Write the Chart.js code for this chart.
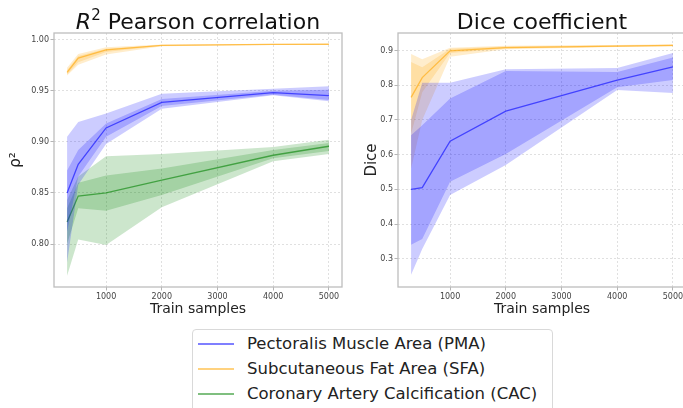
<!DOCTYPE html>
<html><head><meta charset="utf-8">
<script src="https://cdn.jsdelivr.net/npm/chart.js@4"></script>
<style>
html,body{margin:0;padding:0;background:#fff;overflow:hidden;width:683px;height:408px;font-family:"DejaVu Sans",sans-serif;}
#c1{position:absolute;left:0;top:0;}
#c2{position:absolute;left:345px;top:0;}
#legend{position:absolute;left:192px;top:329px;width:361px;height:95px;border:1px solid #d9d9d9;border-radius:4px;background:#fff;box-sizing:border-box;}
.item{position:absolute;left:0;width:100%;height:25px;}
.swatch{position:absolute;left:5px;top:12px;width:36px;height:1.5px;}
.lbl{position:absolute;left:54px;top:0;line-height:25px;font-size:16.5px;color:#222;white-space:nowrap;}
</style></head>
<body>
<canvas id="c1" width="345" height="320"></canvas>
<canvas id="c2" width="345" height="320"></canvas>
<div id="legend"></div>
<script>
// ---------- data ----------
const trainSamples = [300, 500, 1000, 2000, 4000, 5000];
const xTickValues = [1000, 2000, 3000, 4000, 5000];
const r2TickValues = [0.80, 0.85, 0.90, 0.95, 1.00];
const diceTickValues = [0.3, 0.4, 0.5, 0.6, 0.7, 0.8, 0.9];
const seriesNames = ['Pectoralis Muscle Area (PMA)', 'Subcutaneous Fat Area (SFA)', 'Coronary Artery Calcification (CAC)'];

// R2 Pearson correlation
const pmaR2Mean    = [0.850, 0.878, 0.9136, 0.9387, 0.9482, 0.9453];
const pmaR2OuterHi = [0.905, 0.9195, 0.9277, 0.947, 0.952, 0.9544];
const pmaR2OuterLo = [0.782, 0.858, 0.898, 0.9325, 0.9455, 0.9397];
const pmaR2InnerHi = [0.872, 0.892, 0.918, 0.942, 0.950, 0.951];
const pmaR2InnerLo = [0.812, 0.866, 0.905, 0.935, 0.946, 0.941];

const sfaR2Mean    = [0.968, 0.982, 0.990, 0.9944, 0.9953, 0.9955];
const sfaR2OuterHi = [0.9725, 0.986, 0.9925, 0.9952, 0.996, 0.996];
const sfaR2OuterLo = [0.965, 0.9755, 0.9855, 0.9935, 0.9947, 0.995];
const sfaR2InnerHi = [0.970, 0.984, 0.991, 0.9948, 0.9957, 0.9958];
const sfaR2InnerLo = [0.966, 0.978, 0.988, 0.9940, 0.995, 0.9952];

const cacR2Mean    = [0.8217, 0.847, 0.850, 0.8625, 0.8869, 0.8957];
const cacR2OuterHi = [0.843, 0.866, 0.886, 0.888, 0.895, 0.902];
const cacR2OuterLo = [0.769, 0.8045, 0.799, 0.836, 0.881, 0.888];
const cacR2InnerHi = [0.835, 0.860, 0.867, 0.874, 0.892, 0.899];
const cacR2InnerLo = [0.800, 0.835, 0.8325, 0.848, 0.884, 0.891];

// Dice coefficient
const pmaDiceMean    = [0.500, 0.505, 0.639, 0.7255, 0.8146, 0.853];
const pmaDiceOuterHi = [0.700, 0.807, 0.807, 0.846, 0.850, 0.893];
const pmaDiceOuterLo = [0.254, 0.328, 0.484, 0.570, 0.786, 0.778];
const pmaDiceInnerHi = [0.656, 0.685, 0.762, 0.841, 0.838, 0.880];
const pmaDiceInnerLo = [0.340, 0.357, 0.522, 0.602, 0.794, 0.815];

const sfaDiceMean    = [0.765, 0.822, 0.899, 0.9086, 0.913, 0.915];
const sfaDiceOuterHi = [0.890, 0.875, 0.908, 0.914, 0.916, 0.918];
const sfaDiceOuterLo = [0.560, 0.700, 0.882, 0.904, 0.910, 0.912];
const sfaDiceInnerHi = [0.867, 0.852, 0.905, 0.912, 0.915, 0.917];
const sfaDiceInnerLo = [0.660, 0.780, 0.893, 0.906, 0.911, 0.913];

// ---------- styles ----------
const RGB = { pma: '0,0,255', sfa: '255,165,0', cac: '0,128,0' };
const FONT = 'DejaVu Sans';

function pts(arr) { return trainSamples.map((x, i) => ({ x: x, y: arr[i] })); }
function band(hi, lo, rgb) {
  return [
    { data: pts(hi), fill: '+1', backgroundColor: 'rgba(' + rgb + ',0.2)', borderColor: 'transparent', borderWidth: 0, pointRadius: 0 },
    { data: pts(lo), fill: false, borderColor: 'transparent', borderWidth: 0, pointRadius: 0 }
  ];
}
function line(mean, rgb) {
  return { data: pts(mean), fill: false, borderColor: 'rgba(' + rgb + ',0.6)', borderWidth: 1.3, pointRadius: 0 };
}
function series(m, oh, ol, ih, il, rgb) {
  return [].concat(band(oh, ol, rgb), band(ih, il, rgb), [line(m, rgb)]);
}

const framePlugin = {
  id: 'frame',
  afterDraw(chart) {
    const { ctx, chartArea: a } = chart;
    ctx.save(); ctx.setLineDash([]);
    ctx.strokeStyle = '#bdbdbd'; ctx.lineWidth = 1.3;
    ctx.strokeRect(a.left, a.top, a.right - a.left, a.bottom - a.top);
    ctx.restore();
  }
};
const headPlugin = {
  id: 'head',
  afterDraw(chart, args, opts) {
    const ctx = chart.ctx, a = chart.chartArea, parts = opts.parts || [];
    ctx.save(); ctx.fillStyle = '#111'; ctx.textBaseline = 'alphabetic'; ctx.textAlign = 'left';
    let total = 0;
    parts.forEach(p => { ctx.font = (p.style || 'normal') + ' ' + p.size + 'px "' + FONT + '"'; p.w = ctx.measureText(p.text).width; total += p.w; });
    let x = (a.left + a.right) / 2 - total / 2;
    parts.forEach(p => { ctx.font = (p.style || 'normal') + ' ' + p.size + 'px "' + FONT + '"'; ctx.fillText(p.text, x, opts.baseline - (p.rise || 0)); x += p.w; });
    ctx.restore();
  }
};

function makeConfig(datasets, cfg) {
  return {
    type: 'line',
    data: { datasets: datasets },
    plugins: [framePlugin, headPlugin],
    options: {
      responsive: false, animation: false, devicePixelRatio: 1,
      layout: { padding: { top: 33, right: cfg.padRight, left: 0, bottom: 0 } },
      elements: { line: { tension: 0 }, point: { radius: 0 } },
      plugins: {
        legend: { display: false }, tooltip: { enabled: false }, title: { display: false },
        head: { parts: cfg.titleParts, baseline: 29 }
      },
      scales: {
        x: {
          type: 'linear', min: 65, max: 5235,
          afterBuildTicks: s => { s.ticks = xTickValues.map(v => ({ value: v })); },
          afterFit: s => { s.height = 33; },
          grid: { color: '#d8d8d8', lineWidth: 0.8, drawTicks: true, tickLength: 3.5, tickColor: '#b5b5b5', tickWidth: 1 },
          border: { display: false, dash: [2, 2] },
          ticks: { font: { family: FONT, size: 8 }, color: '#444', padding: 2, maxRotation: 0, autoSkip: false, callback: v => String(v) },
          title: { display: true, text: 'Train samples', font: { family: FONT, size: 14 }, color: '#222', padding: { top: 0, bottom: 2 } }
        },
        y: {
          type: 'linear', min: cfg.yMin, max: cfg.yMax,
          afterBuildTicks: s => { s.ticks = cfg.yTicks.map(v => ({ value: v })); },
          afterFit: s => { s.width = cfg.yWidth; },
          grid: { color: '#d8d8d8', lineWidth: 0.8, drawTicks: true, tickLength: 3.5, tickColor: '#b5b5b5', tickWidth: 1 },
          border: { display: false, dash: [2, 2] },
          ticks: { font: { family: FONT, size: 8 }, color: '#444', padding: 1.5, autoSkip: false, callback: v => v.toFixed(cfg.yDigits) },
          title: { display: true, text: cfg.yTitle, font: { family: FONT, size: 15 }, color: '#222', padding: { top: cfg.yTitlePad, bottom: 0 } }
        }
      }
    }
  };
}

const r2Sets = [].concat(
  series(pmaR2Mean, pmaR2OuterHi, pmaR2OuterLo, pmaR2InnerHi, pmaR2InnerLo, RGB.pma),
  series(sfaR2Mean, sfaR2OuterHi, sfaR2OuterLo, sfaR2InnerHi, sfaR2InnerLo, RGB.sfa),
  series(cacR2Mean, cacR2OuterHi, cacR2OuterLo, cacR2InnerHi, cacR2InnerLo, RGB.cac)
);
const diceSets = [].concat(
  series(pmaDiceMean, pmaDiceOuterHi, pmaDiceOuterLo, pmaDiceInnerHi, pmaDiceInnerLo, RGB.pma),
  series(sfaDiceMean, sfaDiceOuterHi, sfaDiceOuterLo, sfaDiceInnerHi, sfaDiceInnerLo, RGB.sfa)
);

new Chart(document.getElementById('c1'), makeConfig(r2Sets, {
  padRight: 3, yMin: 0.758, yMax: 1.0065, yTicks: r2TickValues, yDigits: 2, yWidth: 54,
  yTitle: 'ρ²', yTitlePad: 7,
  titleParts: [{ text: 'R', size: 22, style: 'italic' }, { text: '2', size: 15, rise: 9 }, { text: ' Pearson correlation', size: 22 }]
}));
new Chart(document.getElementById('c2'), makeConfig(diceSets, {
  padRight: 4, yMin: 0.2186, yMax: 0.9506, yTicks: diceTickValues, yDigits: 1, yWidth: 53,
  yTitle: 'Dice', yTitlePad: 18.5,
  titleParts: [{ text: 'Dice coefficient', size: 22 }]
}));

// legend
const legend = document.getElementById('legend');
const legendColors = [RGB.pma, RGB.sfa, RGB.cac];
seriesNames.forEach((name, i) => {
  const it = document.createElement('div');
  it.className = 'item';
  it.style.top = (1 + i * 25) + 'px';
  const sw = document.createElement('span');
  sw.className = 'swatch';
  sw.style.backgroundColor = 'rgba(' + legendColors[i] + ',0.5)';
  const lb = document.createElement('span');
  lb.className = 'lbl';
  lb.textContent = name;
  it.appendChild(sw); it.appendChild(lb);
  legend.appendChild(it);
});
</script>
</body></html>
